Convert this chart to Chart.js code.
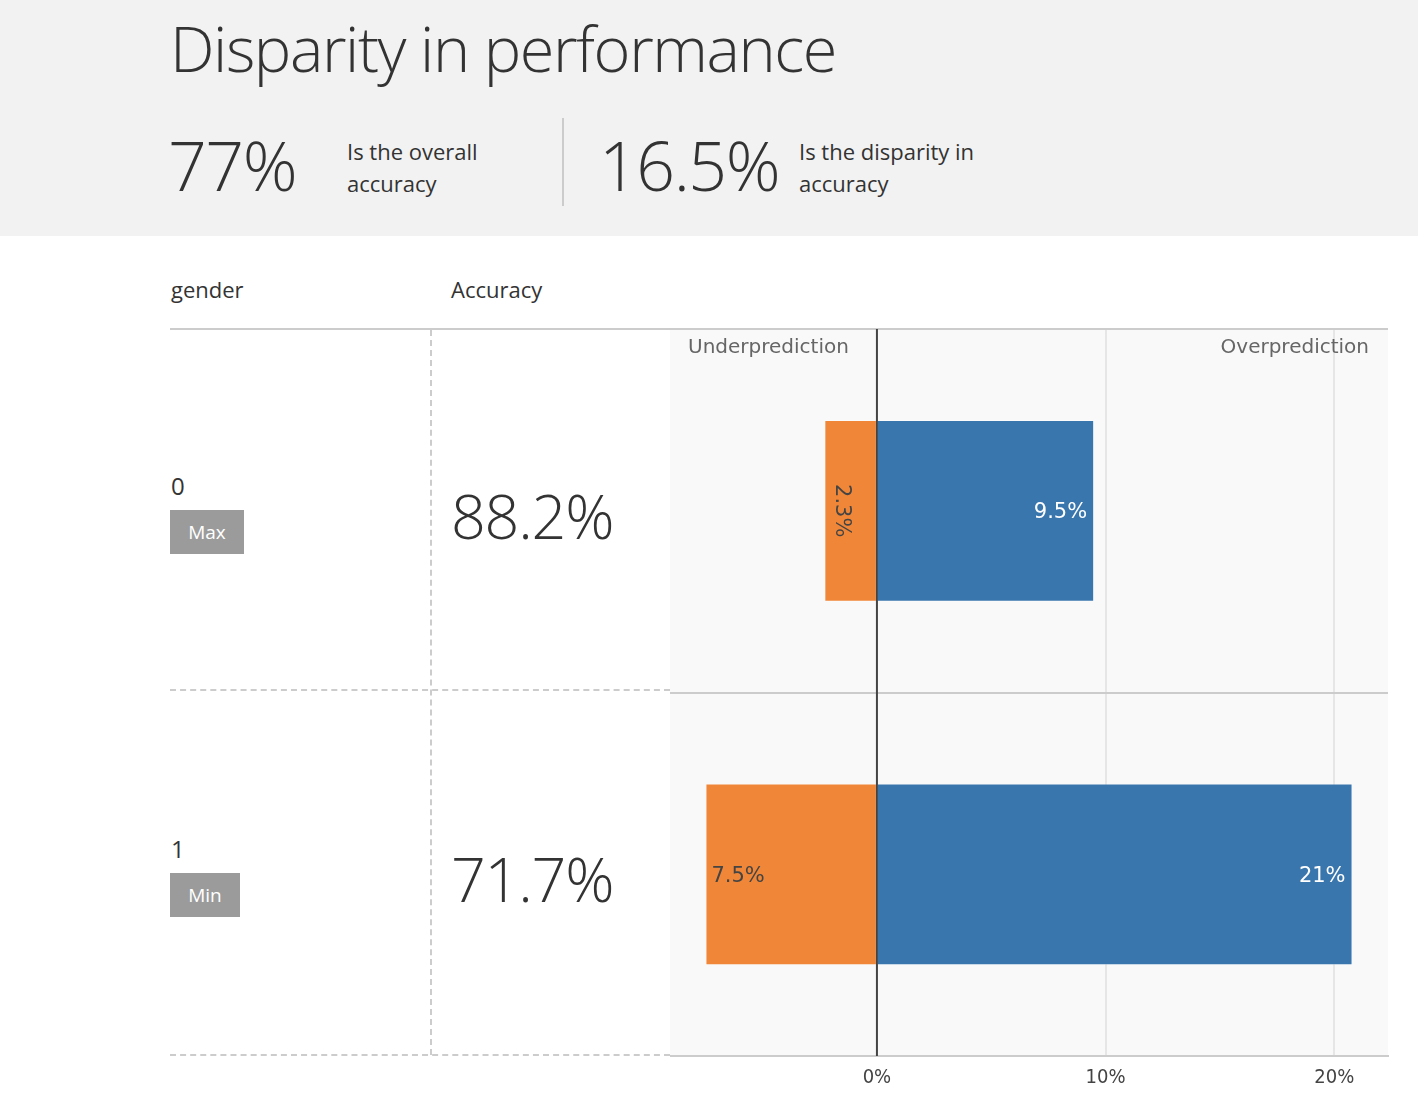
<!DOCTYPE html>
<html>
<head>
<meta charset="utf-8">
<script src="https://cdn.jsdelivr.net/npm/chart.js@4.4.1/dist/chart.umd.min.js"></script>
<style>
  body { margin: 0; background: #fff; font-family: "Open Sans", "Noto Sans", sans-serif; color: #333; }
  .page { position: relative; width: 1418px; height: 1120px; overflow: hidden; }
  .header { position: absolute; left: 0; top: 0; width: 1418px; height: 236px; background: #f2f2f2; }
  .abs { position: absolute; white-space: nowrap; }
  .light { font-weight: 300; }
  .title { left: 170px; top: 8px; font-size: 63px; line-height: 80px; letter-spacing: -1.4px; }
  .big { font-size: 68px; line-height: 80px; letter-spacing: -1.5px; }
  .desc { font-size: 22px; line-height: 32px; }
  .divider { position: absolute; left: 562px; top: 118px; width: 2px; height: 88px; background: #ccc; }
  .colhead { font-size: 22px; line-height: 30px; top: 274px; }
  .rule { position: absolute; left: 170px; top: 328px; width: 1218px; height: 2px; background: #ccc; }
  .vdash { position: absolute; left: 430px; top: 330px; height: 725px; border-left: 2px dashed #ccc; }
  .hdash { position: absolute; left: 170px; width: 500px; border-top: 2px dashed #ccc; }
  .group { font-size: 24px; line-height: 30px; }
  .badge { position: absolute; left: 170px; height: 44px; line-height: 44px; background: #9b9b9b; color: #fff; font-size: 19px; text-align: center; }
  .acc { font-size: 61px; line-height: 80px; letter-spacing: -1.2px; }
  #chartBox { position: absolute; left: 670px; top: 329px; width: 748px; height: 791px; }
</style>
</head>
<body>
<div class="page" id="page">
  <div class="header"></div>
  <div class="abs title light">Disparity in performance</div>
  <div class="abs big light" id="overall" style="left:168px; top:125px;"></div>
  <div class="abs desc" style="left:347px; top:135px;">Is the overall<br>accuracy</div>
  <div class="divider"></div>
  <div class="abs big light" id="disparity" style="left:599px; top:125px;"></div>
  <div class="abs desc" style="left:799px; top:135px;">Is the disparity in<br>accuracy</div>

  <div class="abs colhead" style="left:171px;">gender</div>
  <div class="abs colhead" style="left:451px;">Accuracy</div>
  <div class="rule"></div>
  <div class="vdash"></div>
  <div class="hdash" style="top:689px;"></div>
  <div class="hdash" style="top:1054px;"></div>
  <div id="rows"></div>

  <div id="chartBox"><canvas id="disparityChart"></canvas></div>
</div>

<script>
const groups = ["0", "1"];
const badges = ["Max", "Min"];
const accuracy = [88.2, 71.7];
const underprediction = [2.3, 7.5];
const overprediction = [9.5, 20.8];
const xTicks = [0, 10, 20];
const overallAccuracy = 77;
const accuracyDisparity = 16.5;

document.getElementById("overall").textContent = overallAccuracy + "%";
document.getElementById("disparity").textContent = accuracyDisparity + "%";

// left table rows (group name, badge, accuracy)
const rowTops = [329, 692];
const rows = document.getElementById("rows");
groups.forEach((g, i) => {
  const top = rowTops[i];
  rows.innerHTML += `
    <div class="abs group" style="left:171px; top:${top + 142}px;">${g}</div>
    <div class="badge" style="top:${top + 181}px; width:${badges[i] === "Max" ? 74 : 70}px;">${badges[i]}</div>
    <div class="abs acc light" style="left:451px; top:${top + 147}px;">${accuracy[i]}%</div>`;
});

const fmt = (v) => Number(Math.abs(v).toPrecision(2)) + "%";

const plotDecor = {
  id: "plotDecor",
  beforeDraw: (chart) => {
    const { ctx, chartArea: a } = chart;
    ctx.save();
    ctx.fillStyle = "#f9f9f9";
    ctx.fillRect(a.left, a.top, a.right - a.left, a.bottom - a.top);
    ctx.restore();
  },
  afterDatasetsDraw: (chart) => {
    const { ctx, chartArea: a } = chart;
    const x0 = chart.scales.x.getPixelForValue(0);
    ctx.save();
    // zero line sits on top of the bars
    ctx.strokeStyle = "#444";
    ctx.lineWidth = 2;
    ctx.beginPath();
    ctx.moveTo(x0, a.top);
    ctx.lineTo(x0, a.bottom);
    ctx.stroke();

    ctx.font = '21px "DejaVu Sans"';
    ctx.textBaseline = "middle";
    const pad = 7;
    chart.data.datasets.forEach((ds, di) => {
      chart.getDatasetMeta(di).data.forEach((el, i) => {
        const { x, base, y } = el.getProps(["x", "base", "y"], true);
        const text = fmt(ds.data[i]);
        const w = ctx.measureText(text).width;
        const barW = Math.abs(x - base);
        ctx.fillStyle = di === 0 ? "#444" : "#fff";
        if (w + 2 * pad > barW) {
          ctx.save();
          ctx.translate((x + base) / 2 - 9, y);
          ctx.rotate(Math.PI / 2);
          ctx.textAlign = "center";
          ctx.fillText(text, 0, 0);
          ctx.restore();
        } else if (x < base) {
          ctx.textAlign = "left";
          ctx.fillText(text, x + pad - 1, y + 2);
        } else {
          ctx.textAlign = "right";
          ctx.fillText(text, x - pad, y + 2);
        }
      });
    });

    ctx.font = '20px "DejaVu Sans"';
    ctx.fillStyle = "#666";
    ctx.textAlign = "left";
    ctx.fillText("Underprediction", a.left + 18, a.top + 19);
    ctx.textAlign = "right";
    ctx.fillText("Overprediction", a.right - 19, a.top + 19);
    ctx.restore();
  },
};

new Chart(document.getElementById("disparityChart"), {
  type: "bar",
  data: {
    labels: groups,
    datasets: [
      {
        label: "Underprediction",
        data: underprediction.map((v) => -v),
        backgroundColor: "#f08637",
        borderColor: "rgba(255,255,255,0.35)",
        borderWidth: 1,
        borderSkipped: "start",
      },
      {
        label: "Overprediction",
        data: overprediction,
        backgroundColor: "#3a76ae",
        borderColor: "rgba(255,255,255,0.35)",
        borderWidth: 1,
        borderSkipped: "start",
      },
    ],
  },
  options: {
    indexAxis: "y",
    responsive: true,
    maintainAspectRatio: false,
    animation: false,
    layout: { padding: { left: 0, right: 30, top: 0, bottom: 0 } },
    plugins: { legend: { display: false }, tooltip: { enabled: false } },
    datasets: { bar: { categoryPercentage: 1, barPercentage: 0.5 } },
    scales: {
      x: {
        stacked: true,
        min: -9.05,
        max: 22.35,
        afterFit: (s) => { s.height = 64; },
        afterBuildTicks: (s) => { s.ticks = xTicks.map((v) => ({ value: v })); },
        grid: {
          color: (c) => (c.tick && c.tick.value === 0 ? "rgba(0,0,0,0)" : "#e6e6e6"),
          lineWidth: 2,
          drawTicks: false,
        },
        border: { color: "#ccc", width: 2 },
        ticks: {
          padding: 10,
          color: "#444",
          font: { size: 20, family: '"DejaVu Sans Condensed", "Liberation Sans Narrow", "DejaVu Sans"' },
          callback: (v) => v + "%",
        },
      },
      y: {
        stacked: true,
        afterFit: (s) => { s.width = 0; },
        grid: { offset: true, color: "#ccc", lineWidth: 2, drawTicks: false },
        border: { display: false },
        ticks: { display: false },
      },
    },
  },
  plugins: [plotDecor],
});
</script>
</body>
</html>
